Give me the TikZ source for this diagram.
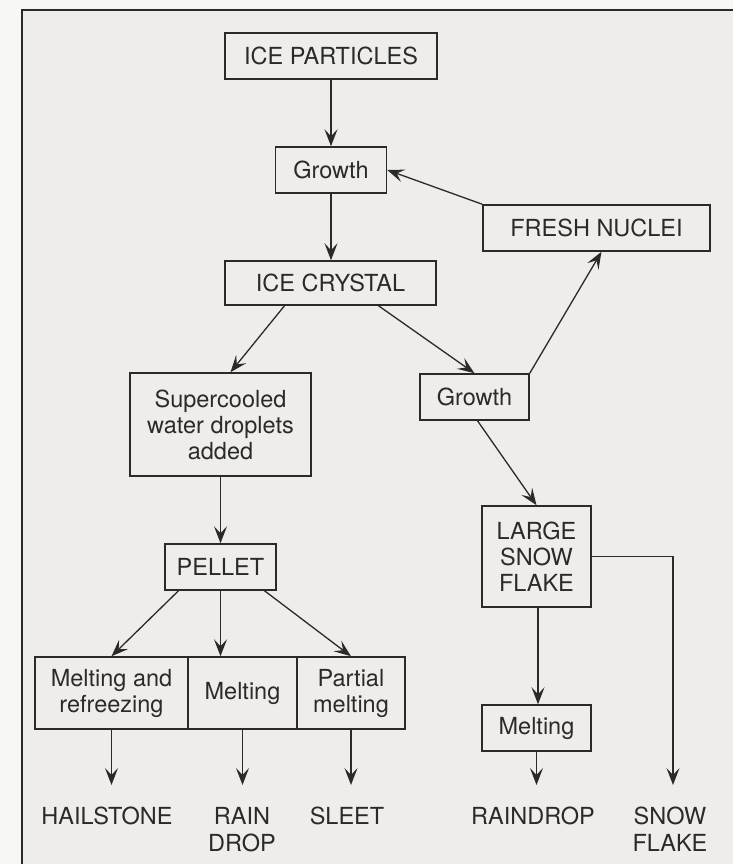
\documentclass[tikz,border=0pt]{standalone}
\usepackage{fontspec}
\setmainfont{TeX Gyre Heros}
\usetikzlibrary{arrows.meta,calc}
\definecolor{ink}{HTML}{2A2A2A}
\definecolor{paper}{HTML}{EFEDEA}
\definecolor{margin}{HTML}{F7F7F6}
\begin{document}
\begin{tikzpicture}[x=1pt,y=-1pt,
  box/.style={draw=ink, line width=1.5pt, text=ink, minimum height=46pt, inner sep=0pt, align=center, font=\fontsize{23.5}{26}\selectfont},
  lbl/.style={text=ink, inner sep=0pt, anchor=north, align=center, font=\fontsize{23.5}{27}\selectfont},
  arr/.style={draw=ink, line width=1.3pt, -{Stealth[length=17pt,width=13pt,inset=7pt]}}]
\fill[margin] (0,0) rectangle (733,864);
\useasboundingbox (0,0) rectangle (733,864);
\fill[paper] (22,10) rectangle (733,864);
\draw[ink, line width=2.4pt] (733,10) -- (22,10) -- (22,864);

\node[box, minimum width=212pt] (ip) at (331,56) {ICE PARTICLES};
\node[box, minimum width=111pt] (g1) at (331,170) {Growth};
\node[box, minimum width=227pt] (fn) at (596.5,228) {FRESH NUCLEI};
\node[box, minimum width=211pt, minimum height=44pt] (ic) at (330.5,283) {ICE CRYSTAL};
\node[box, minimum width=181pt, minimum height=103pt] (sc) at (220.5,424.5) {Supercooled\\water droplets\\added};
\node[box, minimum width=109pt] (g2) at (474.5,397) {Growth};
\node[box, minimum width=109pt, minimum height=101pt] (lsf) at (536.5,556.5) {LARGE\\SNOW\\FLAKE};
\node[box, minimum width=111pt] (pel) at (220.5,567) {PELLET};
\node[box, minimum width=153pt, minimum height=72pt] (m1) at (111.5,693) {Melting and\\refreezing};
\node[box, minimum width=109pt, minimum height=72pt] (m2) at (242.5,693) {Melting};
\node[box, minimum width=108pt, minimum height=72pt] (m3) at (351,693) {Partial\\melting};
\node[box, minimum width=109pt] (mr) at (536.5,728) {Melting};

\node[lbl] (hail) at (107,807) {HAILSTONE};
\node[lbl] (rain) at (242,807) {RAIN\\DROP};
\node[lbl] (sleet) at (347,807) {SLEET};
\node[lbl] (rdrop) at (533,807) {RAINDROP};
\node[lbl] (sflake) at (670,807) {SNOW\\FLAKE};

\coordinate (hailtop) at ([yshift=22pt]hail.north);
\coordinate (raintop) at ([yshift=22pt]rain.north);
\coordinate (sleettop) at ([yshift=22pt]sleet.north);
\coordinate (rdroptop) at ([yshift=22pt]rdrop.north);
\coordinate (sftop) at ([xshift=3pt,yshift=22pt]sflake.north);

\draw[arr] (ip.south) -- (ip.south |- g1.north);
\draw[arr] (g1.south) -- (g1.south |- ic.north);
\draw[arr] (fn.north west) -- (g1.east);
\draw[arr] (g2.north east) -- ([xshift=5pt]fn.south);
\draw[arr] ([xshift=-46pt]ic.south) -- ([xshift=10pt]sc.north);
\draw[arr] ([xshift=48pt]ic.south) -- (g2.north);
\draw[arr] ([xshift=3pt]g2.south) -- (lsf.north);
\draw[arr] (sc.south) -- (pel.north);
\draw[arr] ([xshift=-42pt]pel.south) -- (m1.north);
\draw[arr] (pel.south) -- (pel.south |- m2.north);
\draw[arr] ([xshift=44pt]pel.south) -- (m3.north);
\draw[arr] (m1.south) -- (hailtop -| m1.south);
\draw[arr] (m2.south) -- (raintop -| m2.south);
\draw[arr] (m3.south) -- (sleettop -| m3.south);
\draw[arr] ([xshift=1.5pt]lsf.south) -- ([xshift=1.5pt]mr.north);
\draw[arr] (mr.south) -- (rdroptop -| mr.south);
\draw[arr] (lsf.east) -| (sftop);
\end{tikzpicture}
\end{document}
